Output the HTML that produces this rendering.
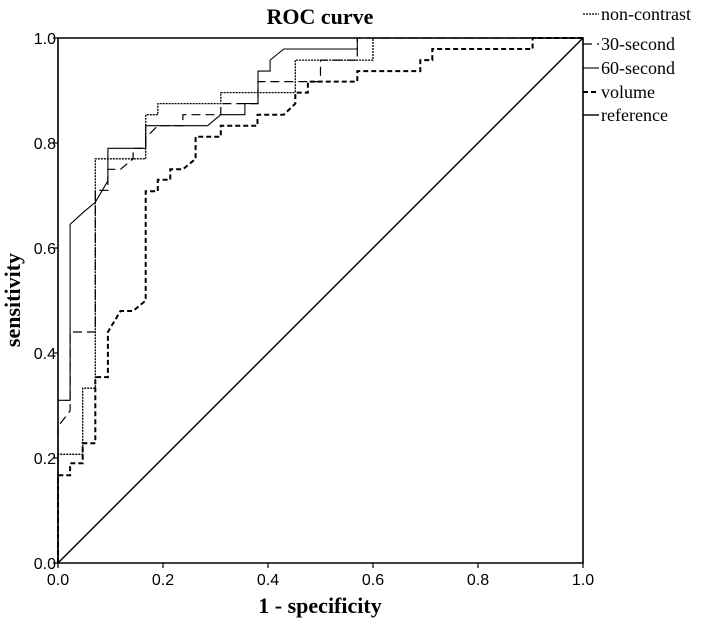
<!DOCTYPE html>
<html><head><meta charset="utf-8"><style>
body{margin:0;background:#fff}
svg{display:block}
.tk{font-family:"Liberation Sans",sans-serif;font-size:16px;fill:#000}
.lg{font-family:"Liberation Serif",serif;font-size:18px;fill:#000}
</style></head><body>
<svg id="c" width="709" height="622" viewBox="0 0 709 622" xmlns="http://www.w3.org/2000/svg">
<text x="320" y="24" text-anchor="middle" font-family="Liberation Serif,serif" font-weight="bold" font-size="22">ROC curve</text>
<text x="320" y="613" text-anchor="middle" font-family="Liberation Serif,serif" font-weight="bold" font-size="22">1 - specificity</text>
<text transform="translate(20,300) rotate(-90)" text-anchor="middle" font-family="Liberation Serif,serif" font-weight="bold" font-size="22">sensitivity</text>
<g id="axes"></g>
<g id="series"></g>
<g id="legend"></g>
</svg>
<script>
const ticks=[0,0.2,0.4,0.6,0.8,1.0];
const tickLabels=["0.0","0.2","0.4","0.6","0.8","1.0"];
const seriesNames=["non-contrast","30-second","60-second","volume","reference"];
const nonContrastX=[0,0,0.047,0.047,0.071,0.071,0.167,0.167,0.19,0.19,0.31,0.31,0.452,0.452,0.6,0.6,1];
const nonContrastY=[0,0.207,0.207,0.333,0.333,0.77,0.77,0.854,0.854,0.875,0.875,0.896,0.896,0.958,0.958,1,1];
const sec30X=[0,0,0.023,0.023,0.071,0.071,0.095,0.095,0.119,0.143,0.143,0.167,0.167,0.19,0.238,0.238,0.31,0.31,0.381,0.381,0.5,0.5,0.57,0.57,1];
const sec30Y=[0,0.26,0.29,0.44,0.44,0.71,0.71,0.75,0.75,0.77,0.79,0.79,0.81,0.833,0.833,0.854,0.854,0.875,0.875,0.917,0.917,0.958,0.958,1,1];
const sec60X=[0,0,0.023,0.023,0.047,0.071,0.095,0.095,0.143,0.167,0.167,0.285,0.31,0.356,0.356,0.381,0.381,0.404,0.404,0.43,0.57,0.57,1];
const sec60Y=[0,0.31,0.31,0.645,0.667,0.687,0.728,0.79,0.79,0.79,0.833,0.833,0.854,0.854,0.875,0.875,0.937,0.937,0.958,0.979,0.979,1,1];
const volumeX=[0,0,0.023,0.023,0.047,0.047,0.071,0.071,0.095,0.095,0.119,0.143,0.167,0.167,0.19,0.19,0.214,0.214,0.238,0.262,0.262,0.31,0.31,0.38,0.38,0.43,0.452,0.452,0.476,0.476,0.57,0.57,0.69,0.69,0.713,0.713,0.904,0.904,1];
const volumeY=[0,0.167,0.167,0.19,0.19,0.228,0.228,0.354,0.354,0.44,0.48,0.48,0.5,0.708,0.708,0.73,0.73,0.75,0.75,0.77,0.812,0.812,0.833,0.833,0.854,0.854,0.875,0.896,0.896,0.917,0.917,0.937,0.937,0.958,0.958,0.979,0.979,1,1];
const refX=[0,1], refY=[0,1];
const X0=58,X1=583,Y0=563,Y1=38;
const sx=v=>X0+v*(X1-X0), sy=v=>Y0-v*(Y0-Y1);
const NS="http://www.w3.org/2000/svg";
function mk(t,a,p){const e=document.createElementNS(NS,t);for(const k in a)e.setAttribute(k,a[k]);p.appendChild(e);return e;}
const ax=document.getElementById('axes');
const frame=mk('path',{d:`M${X0},${Y1}H${X1}V${Y0}H${X0}Z`,fill:'none',stroke:'#000','stroke-width':1.6},ax);


ticks.forEach((t,i)=>{
 mk('line',{x1:sx(t),x2:sx(t),y1:Y0,y2:Y0+5,stroke:'#000','stroke-width':1.2},ax);
 mk('line',{x1:X0-5,x2:X0,y1:sy(t),y2:sy(t),stroke:'#000','stroke-width':1.2},ax);
 const tx=mk('text',{x:sx(t),y:Y0+22,'text-anchor':'middle',class:'tk'},ax);tx.textContent=tickLabels[i];
 
 
 const ty=mk('text',{x:X0-2,y:sy(t)+6,'text-anchor':'end',class:'tk'},ax);ty.textContent=tickLabels[i];
 
 
});
const styles=[{w:1.3,d:'2,1'},{w:1.2,d:'9,5'},{w:1.1,d:''},{w:2,d:'5,3'},{w:1.4,d:''}];
const allX=[nonContrastX,sec30X,sec60X,volumeX,refX], allY=[nonContrastY,sec30Y,sec60Y,volumeY,refY];
const sg=document.getElementById('series');
const names=['non-contrast-curve','30-second-curve','60-second-curve','volume-curve','reference-line'];
allX.forEach((xs,i)=>{
 const d=xs.map((x,j)=>(j?'L':'M')+sx(x).toFixed(1)+','+sy(allY[i][j]).toFixed(1)).join('');
 const p=mk('path',{d,fill:'none',stroke:'#000','stroke-width':styles[i].w,'stroke-dasharray':styles[i].d},sg);
 
 
});
const lg=document.getElementById('legend');
const ly=[14,44,68,92,115];
seriesNames.forEach((n,i)=>{
 const g=mk('g',{},lg);
 
 
 mk('line',{x1:583,x2:599,y1:ly[i],y2:ly[i],stroke:'#000','stroke-width':styles[i].w,'stroke-dasharray':styles[i].d},g);
 const t=mk('text',{x:601,y:ly[i]+6,class:'lg'},g);t.textContent=n;
});
</script>
</body></html>
